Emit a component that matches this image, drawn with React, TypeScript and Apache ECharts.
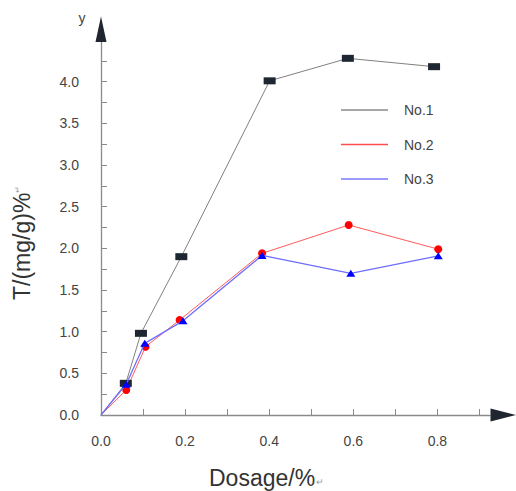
import React, { useEffect, useRef } from "react";
import * as echarts from "echarts";

const seriesNames = ["No.1", "No.2", "No.3"];
const no1X = [0, 0.059, 0.095, 0.191, 0.401, 0.587, 0.792];
const no1Y = [0, 0.38, 0.98, 1.9, 4.01, 4.28, 4.18];
const no2X = [0, 0.06, 0.106, 0.187, 0.383, 0.589, 0.802];
const no2Y = [0, 0.3, 0.82, 1.14, 1.94, 2.28, 1.99];
const no3X = [0, 0.06, 0.104, 0.195, 0.383, 0.594, 0.802];
const no3Y = [0, 0.37, 0.86, 1.13, 1.915, 1.7, 1.91];
const xTicks = [0, 0.1, 0.2, 0.3, 0.4, 0.5, 0.6, 0.7, 0.8, 0.9];
const xLabels = [0, 0.2, 0.4, 0.6, 0.8];
const yTicks = [0, 0.25, 0.5, 0.75, 1, 1.25, 1.5, 1.75, 2, 2.25, 2.5, 2.75, 3, 3.25, 3.5, 3.75, 4, 4.25];
const yLabels = [0, 0.5, 1, 1.5, 2, 2.5, 3, 3.5, 4];

const FONT = "Liberation Sans, Arial, sans-serif";

function pairs(xs: number[], ys: number[]) {
  return xs.map((x, i) => (i === 0 ? { value: [x, ys[i]], symbol: "none" } : [x, ys[i]]));
}

export default function App() {
  const ref = useRef<HTMLDivElement>(null);
  useEffect(() => {
    if (!ref.current) return;
    const chart = echarts.init(ref.current, undefined, { renderer: "svg" });
    const axisColor = "#8a8a8a";
    const arrowColor = "#1f2630";
    const gLeft = 101, gTop = 40, gW = 389, gH = 375;
    chart.setOption({
      animation: false,
      backgroundColor: "#fff",
      grid: { left: gLeft, top: gTop, width: gW, height: gH, containLabel: false },
      xAxis: {
        type: "value",
        min: 0,
        max: 0.925,
        splitLine: { show: false },
        axisLine: { show: true, onZero: false, lineStyle: { color: axisColor, width: 1.3 } },
        axisTick: { show: true, inside: true, length: 6, customValues: xTicks, lineStyle: { color: axisColor } },
        axisLabel: {
          customValues: xLabels,
          margin: 19,
          color: "#444",
          fontSize: 14,
          fontFamily: FONT,
          formatter: (v: number) => v.toFixed(1),
        },
      },
      yAxis: {
        type: "value",
        min: 0,
        max: 4.5,
        splitLine: { show: false },
        axisLine: { show: true, onZero: false, lineStyle: { color: axisColor, width: 1.3 } },
        axisTick: { show: true, inside: true, length: 6, customValues: yTicks, lineStyle: { color: axisColor } },
        axisLabel: {
          customValues: yLabels,
          margin: 22,
          color: "#444",
          fontSize: 14,
          fontFamily: FONT,
          formatter: (v: number) => v.toFixed(1),
        },
      },
      legend: {
        orient: "vertical",
        left: 341,
        top: 102,
        padding: 0,
        itemWidth: 47,
        itemHeight: 1.3,
        itemGap: 18.5,
        icon: "rect",
        textStyle: { color: "#444", fontSize: 14, fontFamily: FONT, lineHeight: 16, padding: [0, 0, 0, 11] },
        data: [
          { name: seriesNames[0], itemStyle: { color: "#8a8a8a" } },
          { name: seriesNames[1], itemStyle: { color: "#ff4c4c" } },
          { name: seriesNames[2], itemStyle: { color: "#7a7aff" } },
        ],
      },
      series: [
        {
          name: seriesNames[0],
          type: "line",
          data: pairs(no1X, no1Y),
          symbol: "rect",
          symbolSize: [12, 7],
          itemStyle: { color: "#1e2731" },
          lineStyle: { color: "#808080", width: 1 },
          z: 3,
        },
        {
          name: seriesNames[1],
          type: "line",
          data: pairs(no2X, no2Y),
          symbol: "circle",
          symbolSize: 8,
          itemStyle: { color: "#ff0000" },
          lineStyle: { color: "#ff5a5a", width: 1 },
          z: 2,
        },
        {
          name: seriesNames[2],
          type: "line",
          data: pairs(no3X, no3Y),
          symbol: "triangle",
          symbolSize: [9, 7],
          itemStyle: { color: "#0000ff" },
          lineStyle: { color: "#6f6fff", width: 1.3 },
          z: 4,
        },
      ],
      graphic: [
        {
          type: "polygon",
          shape: { points: [[gLeft, 16.5], [gLeft - 5.5, 42], [gLeft + 5.5, 42]] },
          style: { fill: arrowColor },
          z: 100,
        },
        {
          type: "polygon",
          shape: { points: [[516, gTop + gH], [490.5, gTop + gH - 6.5], [490.5, gTop + gH + 6.5]] },
          style: { fill: arrowColor },
          z: 100,
        },
        {
          type: "text",
          x: 82,
          y: 18,
          style: { text: "y", fill: "#444", fontSize: 14, fontFamily: FONT, align: "center", verticalAlign: "middle" },
        },
        {
          type: "text",
          x: 209,
          y: 478,
          style: {
            text: "{a|Dosage/%}{b|↵}",
            rich: {
              a: { fontSize: 23, fill: "#333", fontFamily: FONT },
              b: { fontSize: 9, fill: "#999", fontFamily: FONT, padding: [8, 0, 0, 1] },
            },
            verticalAlign: "middle",
          },
        },
        {
          type: "text",
          x: 22,
          y: 300,
          rotation: Math.PI / 2,
          style: {
            text: "{a|T/(mg/g)%}{b|↵}",
            rich: {
              a: { fontSize: 23, fill: "#333", fontFamily: FONT },
              b: { fontSize: 8, fill: "#999", fontFamily: FONT, padding: [0, 0, 10, 0] },
            },
            align: "left",
            verticalAlign: "middle",
          },
        },
      ],
    });
    return () => chart.dispose();
  }, []);
  return <div ref={ref} style={{ position: "absolute", left: 0, top: 0, width: 516, height: 491 }} />;
}
